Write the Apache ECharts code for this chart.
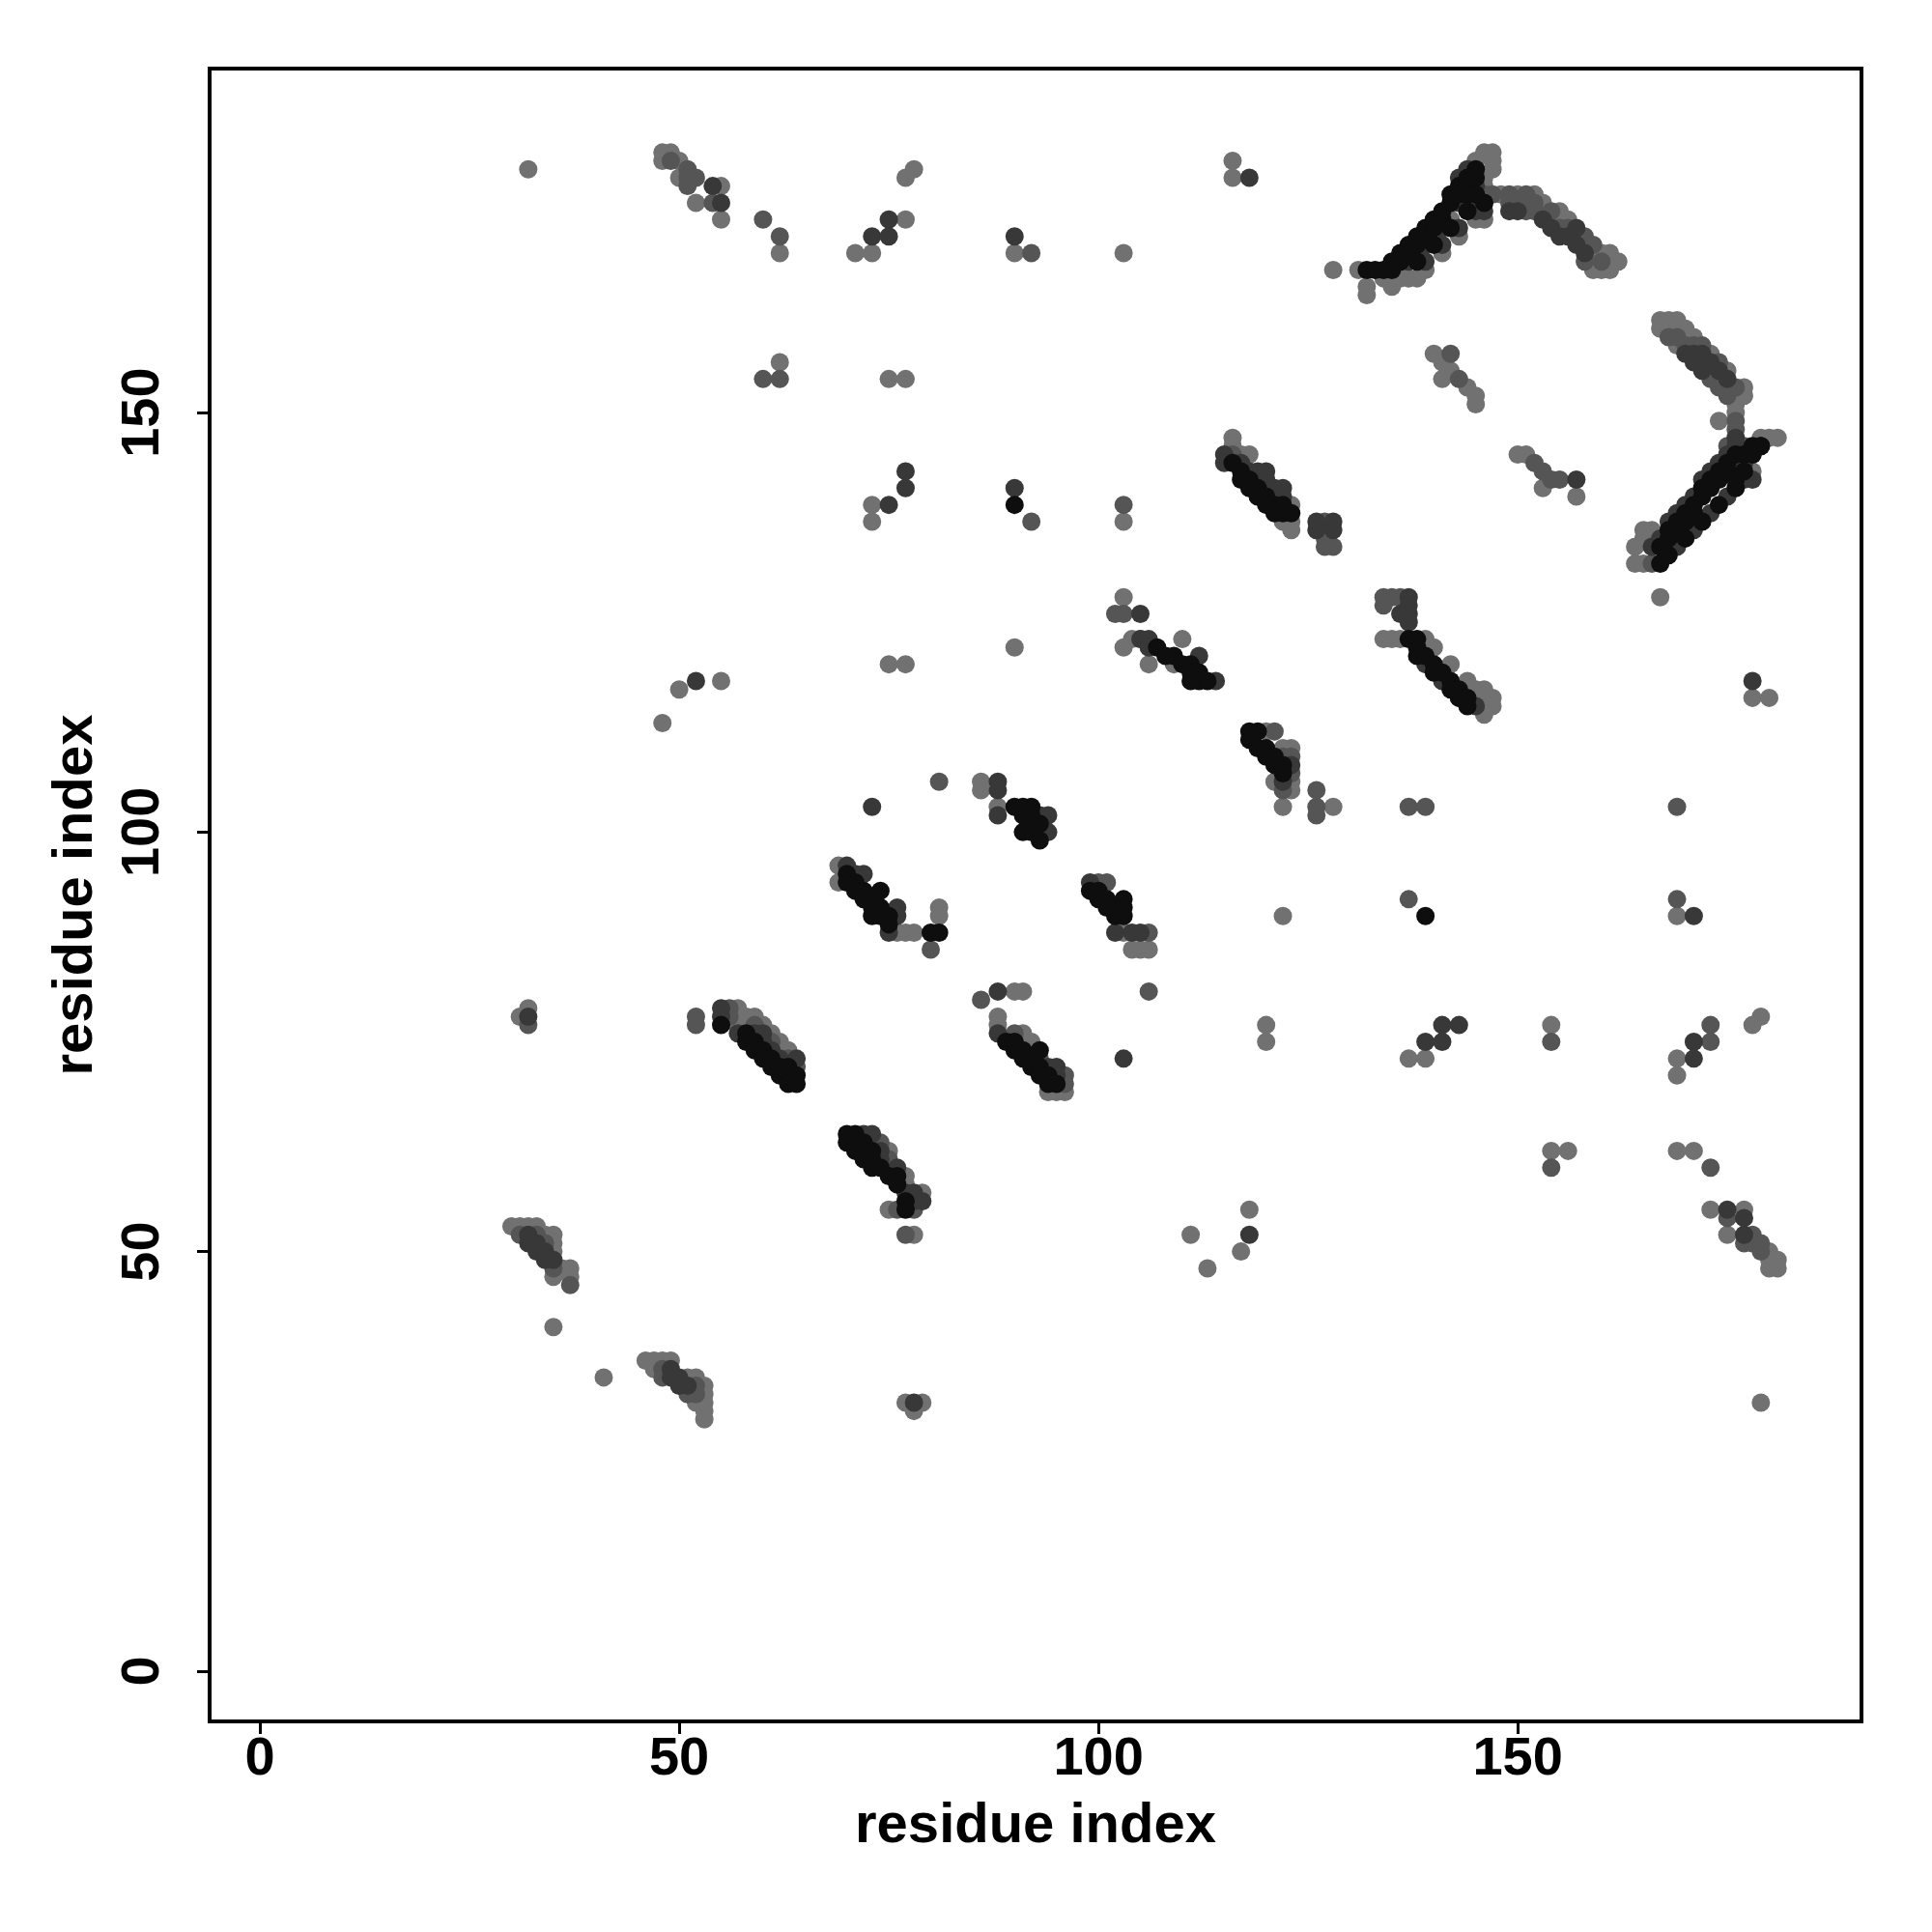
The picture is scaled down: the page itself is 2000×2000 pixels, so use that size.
<!DOCTYPE html>
<html><head><meta charset="utf-8">
<script src="https://cdn.jsdelivr.net/npm/echarts@6/dist/echarts.min.js"></script>
<style>html,body{margin:0;padding:0;background:#fff}#c{width:2000px;height:2000px}</style>
</head><body><div id="c"></div>
<script>
// tick labels
const tickValues = [0, 50, 100, 150];
const axisTitle = 'residue index';

// contact points, grouped by gray level
const lightPts = [
[32,179],[48,181],[49,181],[48,180],[50,180],[50,178],[52,175],[55,177],[55,173],[62,169],[62,156],
[78,179],[77,178],[77,173],[71,169],[73,169],[90,169],[103,169],[75,154],[77,154],[73,139],[73,137],[103,137],
[116,180],[116,178],[128,167],[131,167],[132,165],[132,164],[134,166],[135,165],[136,166],[137,166],[138,166],
[136,167],[138,169],[140,171],[142,173],[144,175],[146,177],[146,178],[145,180],[146,181],
[139,167],[141,169],[143,171],[145,173],[146,173],
[147,181],[147,180],[147,179],[148,176],[150,176],[152,176],[153,175],[153,174],[155,174],[154,173],[156,173],[157,171],[158,170],[159,169],[160,169],[161,169],[161,168],[162,168],[160,167],[161,167],[159,167],
[140,157],[141,156],[142,155],[141,154],[144,153],[145,152],[145,151],
[150,145],[151,145],[153,141],[157,140],
[167,161],[168,161],[167,160],[168,160],[169,160],[170,159],[169,158],[173,155],[174,154],[175,153],[176,152],[176,151],[176,150],[174,149],
[169,161],[170,160],[171,159],[173,157],[175,155],[177,153],[177,152],
[164,132],[165,132],[167,128],[164,134],[165,135],[166,136],[165,136],
[179,147],[180,147],[181,147],[178,143],
[178,116],[180,116],[147,116],[146,116],[147,115],[146,114],
[140,122],[142,120],[144,118],[145,117],[146,117],
[116,147],[116,146],[117,145],[118,145],[123,139],[122,137],[123,137],[123,136],
[103,128],[103,122],[90,122],[75,120],[77,120],[55,118],[50,117],[48,113],
[104,123],[105,123],[110,123],[109,120],[106,120],
[134,123],[135,123],[136,123],[139,123],
[86,106],[86,105],[88,103],
[120,112],[123,110],[122,110],[121,106],[123,106],[123,105],[122,103],[128,103],
[69,96],[69,94],[76,88],[77,88],[78,88],[81,91],[81,90],
[90,81],[91,81],[103,88],[105,86],[106,86],[104,86],[122,90],[169,90],
[31,78],[32,79],
[57,79],[57,78],[58,78],[59,78],[57,77],[58,77],[60,77],[61,76],[62,75],[62,74],[63,74],
[88,78],[88,77],[91,76],[92,75],[94,69],[95,69],[96,69],
[120,77],[120,75],[137,73],[139,73],[154,77],[169,73],[169,71],[179,78],[178,77],
[75,62],[77,59],[77,58],[79,57],[75,55],[78,52],
[154,62],[156,62],[169,62],[171,62],
[118,55],[117,50],[113,48],[111,52],
[30,53],[31,53],[32,53],[33,53],[34,52],[35,52],[35,51],[35,50],[36,48],[35,47],[37,48],[37,47],
[35,41],[41,35],
[46,37],[47,37],[48,37],[49,37],[47,36],[51,35],[52,35],[53,34],[53,33],[52,32],[53,32],[53,31],[53,30],
[77,32],[79,32],[78,31],[179,32],
[173,55],[177,55],[175,52],[180,50],[180,49],[181,49],[180,48],[181,48]
];
const midPts = [
[49,180],[51,179],[51,178],[52,178],[51,177],[54,175],[60,173],[62,171],[60,154],[62,154],
[92,169],[103,139],[92,137],[102,126],[103,126],
[146,176],[147,176],[149,176],[151,176],[149,175],[150,175],[151,175],[152,175],[151,174],[152,174],[154,174],[155,172],[156,172],[158,171],[159,170],[160,168],[158,168],
[168,159],[169,159],[170,158],[171,158],[172,156],[173,154],[174,153],[175,152],[176,149],[176,148],
[172,158],[174,156],[176,153],
[143,154],[142,157],[152,144],[155,142],[153,143],[154,142],
[116,145],[119,142],[121,140],
[127,137],[127,135],[128,134],[127,134],
[134,128],[135,128],[134,127],[136,128],
[81,106],[86,80],[126,105],[126,103],[126,102],[137,103],[139,103],[169,103],[169,92],[137,92],
[56,79],[56,78],[59,77],[61,75],[63,73],[64,72],
[90,76],[93,73],[96,71],[96,70],
[73,63],[74,63],[75,61],[76,55],[78,55],
[154,75],[173,77],[173,75],[154,60],[173,60],
[32,77],[52,78],[52,77],
[31,52],[33,52],[34,51],[35,48],[37,46],
[48,36],[48,35],[52,34],[51,33],[52,33],
[77,52],[80,86],
[175,54],[177,51],[178,51],[179,51],[179,50],[178,52],
[100,94],[101,94],
[122,109],[123,109],[123,107],[122,105],[121,112],
[176,146],[177,146],[175,146],[106,81],[106,88],[166,132]
];
const darkPts = [
[54,177],[55,175],[75,173],[73,171],[75,171],[90,171],[77,143],[77,141],[75,139],[90,141],[118,178],
[157,142],[157,172],[149,174],[150,174],[153,173],[154,172],[155,171],[156,171],[157,170],[158,169],
[170,157],[171,157],[172,157],[171,156],[173,156],[172,155],[174,155],[175,154],[176,147],[176,146],
[115,145],[115,144],[117,144],[118,143],[119,143],[120,143],[120,142],[120,141],[121,141],[122,141],[122,140],
[126,137],[128,137],[126,136],[128,136],[137,128],[136,126],[137,126],[137,125],[137,127],
[105,126],[105,123],[106,123],[106,122],
[52,118],[88,106],[88,105],[88,102],[73,103],[93,102],[94,102],[94,100],
[70,96],[71,95],[72,95],[75,88],[76,91],[76,90],
[88,81],[99,94],[102,88],[104,88],[105,88],
[141,77],[143,77],[139,75],[141,75],[171,75],[171,73],
[32,78],[55,79],[55,78],[60,76],[57,76],[59,76],[60,75],[61,74],[62,73],[64,73],
[88,76],[94,72],[95,72],[95,71],[103,73],
[72,64],[73,64],[74,62],[74,61],[76,60],[78,56],[79,56],[77,57],[78,57],
[118,52],[175,55],[177,52],[177,54],
[32,52],[32,51],[33,51],[33,50],[34,50],[34,49],[35,49],
[49,36],[49,35],[50,35],[50,34],[51,34],
[78,32],[178,118],[178,145],[178,142],[171,90],
[137,168],[139,170],[141,172],[143,175],[145,177],[146,175],[146,174],[144,179],[143,178],
[139,168],[141,170],[143,172],[145,174],
[166,134],[167,135],[168,137],[169,138],[170,139],[171,140],[172,142],[173,143],[174,144],[175,145],[176,144],[177,144],
[169,134],[171,136],[173,138],[175,140],[177,142],
[122,106],[123,108],[145,115],[114,118],[112,121],
[139,120],[141,118],[143,116]
];
const blackPts = [
[132,167],[90,139],[139,90],[167,132],
[133,167],[134,167],[135,167],[135,168],[136,168],[136,169],[137,169],[137,170],[138,170],[138,171],[139,171],[139,172],[140,172],[140,173],[141,173],[141,174],[142,175],[142,176],[143,176],[143,177],[144,177],[144,178],[145,178],[145,179],[144,176],[145,176],
[138,168],[140,170],[142,172],[144,174],[146,175],
[167,134],[168,135],[168,136],[169,136],[169,137],[170,137],[170,138],[171,138],[171,139],[172,140],[172,141],[173,141],[173,142],[174,142],[174,143],[175,143],[175,144],[176,145],[177,145],[178,146],[179,146],[178,145],
[168,133],[170,135],[172,137],[174,139],[176,141],[176,142],[177,143],
[117,143],[116,144],[117,142],[118,142],[118,141],[119,141],[119,140],[120,140],[120,139],[121,139],[121,138],[122,138],[122,139],[123,138],
[137,123],[138,123],[138,122],[138,121],[139,121],[140,120],[140,119],[141,119],[142,118],[142,117],[143,117],[143,116],[144,116],[144,115],
[107,122],[108,121],[109,121],[110,120],[111,120],[111,119],[112,119],[112,118],[113,118],[111,118],
[118,112],[118,111],[119,112],[119,110],[120,110],[120,109],[121,109],[121,108],[122,108],[122,107],
[90,103],[91,103],[92,103],[91,102],[92,101],[91,100],[92,100],[93,99],[93,101],[92,102],
[70,95],[70,94],[71,94],[71,93],[72,93],[72,92],[73,92],[73,91],[74,91],[74,93],[73,90],[74,90],[75,90],[80,88],[81,88],[75,89],
[99,93],[100,93],[100,92],[101,92],[101,91],[102,91],[102,90],[103,92],[103,91],[103,90],
[55,77],[58,76],[58,75],[59,75],[59,74],[60,74],[60,73],[61,73],[61,72],[62,72],[62,71],[63,72],[63,71],[64,71],[63,70],[64,70],
[89,75],[90,75],[90,74],[91,74],[93,74],[91,73],[92,73],[92,72],[93,72],[93,71],[94,71],[94,70],[95,70],
[70,64],[71,64],[70,63],[71,63],[72,63],[71,62],[72,62],[73,62],[72,61],[73,61],[73,60],[74,60],[75,59],[76,59],[76,58],[77,56],[77,55],
[179,146]
];

const font = '"Liberation Sans", Arial, Helvetica, sans-serif';
function makeAxis(isY) {
  return {
    type: 'value', min: -6, max: 191,
    name: axisTitle, nameLocation: 'middle',
    nameGap: isY ? 109 : 80, nameRotate: isY ? 90 : 0,
    nameTextStyle: { fontFamily: font, fontWeight: 'bold', fontSize: 58, color: '#000' },
    axisLine: { show: false, onZero: false },
    splitLine: { show: false },
    axisTick: { show: true, customValues: tickValues, length: 13, lineStyle: { color: '#000', width: 3 } },
    axisLabel: { customValues: tickValues, rotate: isY ? 90 : 0, margin: isY ? 40 : 12,
      fontFamily: font, fontWeight: 'bold', fontSize: 56, color: '#000' }
  };
}
function makeSeries(data, color) {
  return { type: 'scatter', data: data, symbol: 'circle', symbolSize: 19,
    itemStyle: { color: color, opacity: 1 }, emphasis: { disabled: true }, silent: true };
}
const chart = echarts.init(document.getElementById('c'));
chart.setOption({
  animation: false,
  backgroundColor: '#fff',
  grid: { left: 217, right: 73, top: 71, bottom: 218, show: true, borderColor: '#000', borderWidth: 4, backgroundColor: 'transparent' },
  xAxis: makeAxis(false),
  yAxis: makeAxis(true),
  series: [
    makeSeries(lightPts, '#717171'),
    makeSeries(midPts, '#555555'),
    makeSeries(darkPts, '#383838'),
    makeSeries(blackPts, '#0e0e0e')
  ]
});
</script></body></html>
